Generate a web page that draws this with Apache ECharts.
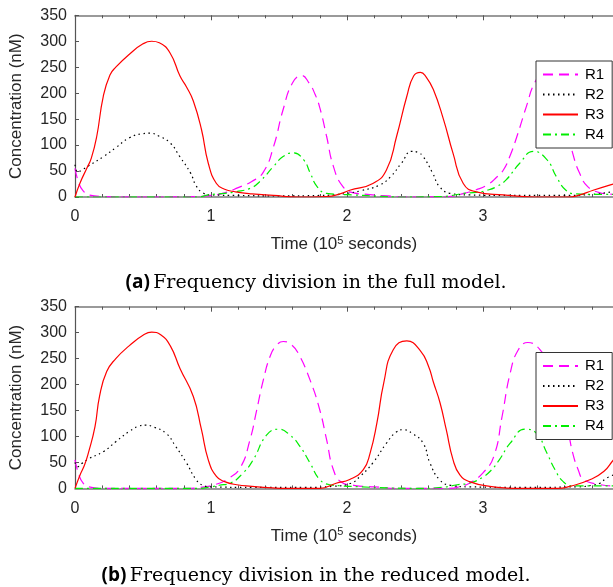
<!DOCTYPE html>
<html lang="en">
<head>
    <meta charset="UTF-8">
    <title>Frequency division</title>
    <style>
        html, body { margin: 0; padding: 0; background: #fff; }
        #chart { width: 613px; height: 587px; }
    </style>
</head>
<body>
    <div id="chart"></div>
    <script src="https://cdn.jsdelivr.net/npm/echarts@6/dist/echarts.min.js"></script>
    <script>
        // time in units of 1e5 s, concentration in nM
        // (a) full model
        const fullR1 = [[0, 55], [0.03, 25], [0.06, 12], [0.1, 4], [0.2, 1], [0.5, 0], [0.9, 1], [1.0, 3], [1.1, 8], [1.2, 18], [1.3, 30], [1.385, 48], [1.46, 97], [1.53, 168], [1.6, 220], [1.667, 234], [1.72, 220], [1.765, 198], [1.8, 172], [1.85, 117], [1.9, 59], [1.97, 20], [2.05, 8], [2.15, 5], [2.3, 2], [2.5, 0], [2.75, 1], [2.86, 7], [2.95, 14], [3.03, 23], [3.1, 38], [3.15, 52], [3.2, 80], [3.25, 117], [3.32, 175], [3.38, 220], [3.44, 236], [3.5, 222], [3.57, 180], [3.62, 130], [3.66, 84], [3.71, 46], [3.77, 20], [3.85, 9], [3.95, 5], [4, 4]];
        const fullR2 = [[0, 62], [0.02, 48], [0.05, 52], [0.1, 60], [0.21, 78], [0.3, 95], [0.4, 114], [0.5, 122], [0.55, 123], [0.62, 117], [0.7, 104], [0.77, 78], [0.85, 46], [0.89, 22], [0.94, 8], [1.0, 4], [1.2, 3], [1.5, 2], [1.8, 3], [1.9, 4], [2.0, 7], [2.1, 12], [2.24, 23], [2.32, 39], [2.4, 65], [2.476, 88], [2.52, 86], [2.56, 78], [2.63, 46], [2.68, 20], [2.76, 7], [2.9, 4], [3.2, 3], [3.6, 3], [3.8, 5], [3.95, 10], [4, 12]];
        const fullR3 = [[0, 0], [0.037, 27], [0.086, 55], [0.12, 75], [0.16, 117], [0.208, 194], [0.257, 235], [0.3, 250], [0.4, 275], [0.5, 295], [0.564, 300], [0.62, 297], [0.7, 277], [0.772, 233], [0.82, 212], [0.87, 185], [0.93, 130], [0.98, 65], [1.04, 26], [1.1, 15], [1.18, 10], [1.3, 6], [1.46, 3], [1.64, 0], [1.85, 1], [1.96, 7], [2.02, 13], [2.19, 26], [2.29, 52], [2.365, 117], [2.44, 194], [2.49, 233], [2.54, 240], [2.58, 232], [2.635, 207], [2.71, 149], [2.78, 84], [2.855, 26], [2.95, 10], [3.15, 4], [3.38, 0], [3.62, 0], [3.7, 3], [3.81, 13], [3.956, 25], [4, 28]];
        const fullR4 = [[0, 0], [0.9, 0], [0.98, 4], [1.1, 7], [1.18, 10], [1.29, 17], [1.36, 30], [1.46, 59], [1.53, 78], [1.605, 85], [1.68, 72], [1.73, 46], [1.78, 20], [1.85, 7], [1.95, 5], [2.05, 4], [2.2, 2], [2.4, 0], [2.7, 1], [2.86, 7], [2.95, 9], [3.03, 13], [3.1, 20], [3.17, 33], [3.27, 65], [3.37, 88], [3.47, 72], [3.54, 39], [3.61, 13], [3.68, 6], [3.8, 5], [4, 5]];
        // (b) reduced model
        const redR1 = [[0, 55], [0.03, 25], [0.06, 10], [0.1, 3], [0.2, 0], [0.8, 0], [0.95, 3], [1.05, 9], [1.115, 17], [1.213, 39], [1.287, 94], [1.336, 151], [1.385, 209], [1.434, 254], [1.48, 275], [1.532, 283], [1.59, 277], [1.642, 260], [1.728, 209], [1.8, 151], [1.85, 94], [1.9, 36], [1.96, 12], [2.05, 6], [2.2, 3], [2.4, 0], [2.75, 0], [2.85, 5], [2.9, 10], [3.0, 30], [3.08, 62], [3.14, 138], [3.2, 222], [3.26, 267], [3.33, 281], [3.42, 267], [3.5, 230], [3.58, 160], [3.63, 105], [3.66, 68], [3.7, 36], [3.74, 17], [3.85, 8], [3.95, 5], [4, 5]];
        const redR2 = [[0, 50], [0.02, 42], [0.05, 48], [0.1, 57], [0.21, 71], [0.3, 90], [0.4, 110], [0.47, 120], [0.515, 122], [0.58, 118], [0.67, 106], [0.74, 81], [0.82, 49], [0.89, 17], [0.94, 6], [1.0, 3], [1.3, 2], [1.7, 2], [1.9, 4], [2.03, 10], [2.095, 23], [2.19, 49], [2.29, 87], [2.36, 108], [2.415, 113], [2.48, 106], [2.56, 87], [2.61, 49], [2.68, 17], [2.76, 6], [2.9, 3], [3.3, 2], [3.7, 3], [3.8, 6], [3.86, 10], [3.91, 20], [4, 30]];
        const redR3 = [[0, 0], [0.037, 26], [0.07, 45], [0.098, 68], [0.147, 119], [0.18, 177], [0.233, 225], [0.3, 250], [0.4, 275], [0.5, 295], [0.564, 301], [0.63, 296], [0.7, 275], [0.772, 231], [0.87, 177], [0.93, 113], [0.98, 55], [1.04, 23], [1.1, 13], [1.19, 7], [1.3, 4], [1.45, 1], [1.55, 0], [1.8, 0], [1.92, 10], [2.02, 17], [2.12, 36], [2.17, 68], [2.22, 126], [2.27, 203], [2.34, 267], [2.44, 284], [2.54, 265], [2.6, 235], [2.635, 205], [2.684, 165], [2.73, 113], [2.78, 55], [2.83, 26], [2.9, 13], [3.05, 4], [3.3, 0], [3.55, 0], [3.64, 4], [3.79, 17], [3.89, 33], [3.96, 55], [4, 65]];
        const redR4 = [[0, 0], [0.9, 0], [1.0, 3], [1.06, 6], [1.14, 10], [1.237, 30], [1.31, 55], [1.41, 103], [1.496, 114], [1.58, 103], [1.654, 81], [1.728, 49], [1.8, 17], [1.875, 7], [1.95, 5], [2.1, 3], [2.3, 1], [2.5, 0], [2.7, 2], [2.81, 7], [2.9, 10], [3.0, 22], [3.06, 35], [3.12, 55], [3.2, 87], [3.31, 114], [3.39, 107], [3.47, 68], [3.53, 36], [3.59, 13], [3.66, 5], [4, 5]];

        const names = ['R1', 'R2', 'R3', 'R4'];
        const captions = ['Frequency division in the full model.', 'Frequency division in the reduced model.'];

        const sans = 'Liberation Sans, Arial, sans-serif';
        const styles = {
            R1: { color: '#ff00ff', type: [10, 6] },
            R2: { color: '#000000', type: [1.5, 3.5] },
            R3: { color: '#ff0000', type: 'solid' },
            R4: { color: '#00ee00', type: [8, 4, 2, 4] }
        };
        const gridTops = [15.3, 306.7];
        const xMax = 3.956; // the right part of the original figure is cut off

        const myChart = echarts.init(document.getElementById('chart'));

        function xAx(i, top) {
            return {
                type: 'value', gridIndex: i, min: 0, max: xMax, interval: 1,
                position: top ? 'top' : 'bottom',
                axisLine: { show: true, onZero: false, lineStyle: { color: '#7a7a7a', width: 1.5 } },
                axisTick: { show: true, inside: true, length: 5, lineStyle: { color: '#555' } },
                minorTick: { show: true, splitNumber: 5, length: 3, lineStyle: { color: '#555' } },
                axisLabel: { show: !top, showMaxLabel: false, margin: 12, color: '#262626', fontSize: 16, fontFamily: sans },
                splitLine: { show: false },
                name: top ? '' : '{a|Time (10}{s|5}{a| seconds)}',
                nameLocation: 'middle', nameGap: 38,
                nameTextStyle: {
                    rich: {
                        a: { fontSize: 17, fontFamily: sans, color: '#262626' },
                        s: { fontSize: 11, fontFamily: sans, color: '#262626', verticalAlign: 'top', padding: [0, 0, 8, 0] }
                    }
                }
            };
        }

        function yAx(i) {
            return {
                type: 'value', gridIndex: i, min: 0, max: 350, interval: 50,
                axisLine: { show: true, lineStyle: { color: '#555', width: 1.2 } },
                axisTick: { show: true, inside: true, length: 4, lineStyle: { color: '#555' } },
                axisLabel: { margin: 8, color: '#262626', fontSize: 16, fontFamily: sans },
                splitLine: { show: false },
                name: 'Concentration (nM)', nameLocation: 'middle', nameGap: 50,
                nameTextStyle: { fontSize: 17, fontFamily: sans, color: '#262626' }
            };
        }

        const seriesData = [[fullR1, fullR2, fullR3, fullR4], [redR1, redR2, redR3, redR4]];
        const series = [];
        seriesData.forEach(function (set, g) {
            set.forEach(function (d, k) {
                const st = styles[names[k]];
                series.push({
                    name: names[k], type: 'line', xAxisIndex: g * 2, yAxisIndex: g,
                    data: d, smooth: 0.5, showSymbol: false, symbol: 'none',
                    color: st.color,
                    lineStyle: { color: st.color, width: 1.2, type: st.type },
                    z: k === 2 ? 3 : 2
                });
            });
        });

        const option = {
            backgroundColor: '#fff',
            animation: false,
            grid: gridTops.map(function (t) {
                return { left: 75, right: 0, top: t, height: 181.7 };
            }),
            xAxis: [xAx(0, false), xAx(0, true), xAx(1, false), xAx(1, true)],
            yAxis: [yAx(0), yAx(1)],
            legend: gridTops.map(function (t, i) {
                return {
                    data: names, orient: 'vertical', left: 536, top: i === 0 ? 61 : 352.5,
                    itemWidth: 35, itemHeight: 12, itemGap: 5,
                    padding: [6, 8, 6, 6],
                    backgroundColor: '#fff', borderColor: '#333', borderWidth: 1,
                    itemStyle: { opacity: 0 },
                    textStyle: { fontSize: 15, fontFamily: sans, color: '#000', padding: [0, 0, 0, 2] },
                    selectedMode: false
                };
            }),
            graphic: captions.map(function (c, i) {
                return {
                    type: 'text', x: 316, y: i === 0 ? 283 : 576,
                    style: {
                        text: '{b|(' + (i === 0 ? 'a' : 'b') + ')} {s|' + c + '}',
                        align: 'center', verticalAlign: 'middle',
                        rich: {
                            b: { fontSize: 19, fontFamily: 'Open Sans, sans-serif', fontWeight: 'bold', fill: '#000' },
                            s: { fontSize: 19, fontFamily: 'DejaVu Serif, serif', fill: '#000' }
                        }
                    }
                };
            }),
            series: series
        };

        myChart.setOption(option);
    </script>
</body>
</html>
